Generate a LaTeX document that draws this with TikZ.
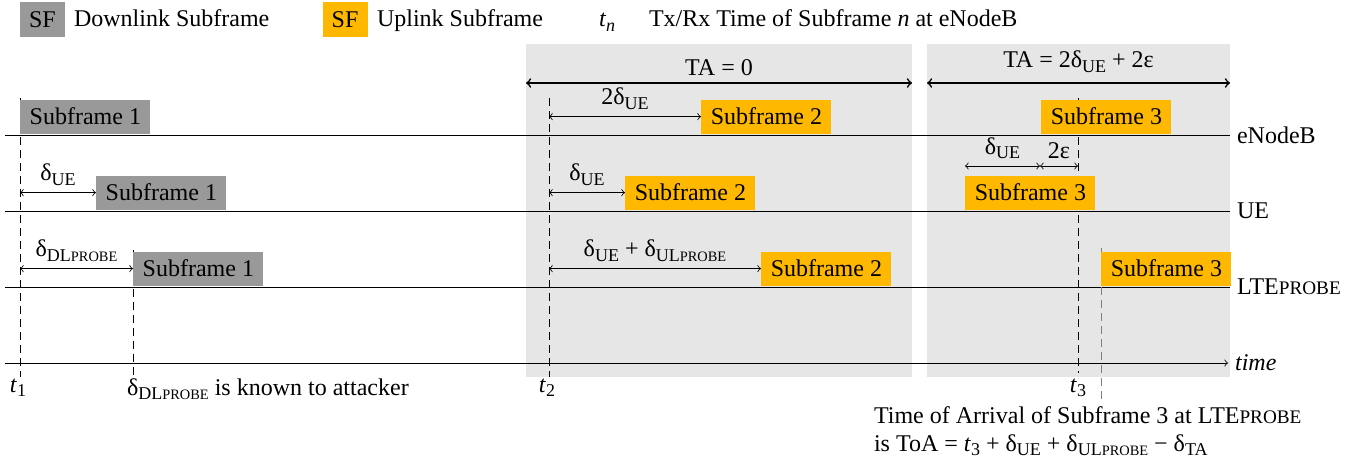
\documentclass[tikz,border=0pt]{standalone}
\usepackage{fontspec}
\setmainfont{Liberation Serif}
\usepackage{graphicx}

\definecolor{dlgray}{RGB}{153,153,153}
\definecolor{ulorange}{RGB}{255,184,0}
\definecolor{tagray}{RGB}{230,230,230}

\newcommand{\probe}{\scalebox{0.8}{PROBE}}
\newcommand{\sub}[1]{\raisebox{-0.4ex}{\fontsize{9}{10}\selectfont #1}}
\newcommand{\dUE}{δ\sub{UE}}

\tikzset{
	dlbox/.style={fill=dlgray, inner sep=0pt, minimum width=65pt, minimum height=17pt, anchor=south west},
	ulbox/.style={dlbox, fill=ulorange},
	legbox/.style={minimum width=22.5pt, minimum height=17.5pt, anchor=center},
	tline/.style={dash pattern=on 4pt off 2.5pt},
	gap/.style={<->}
}

\begin{document}
\begin{tikzpicture}[x=0.5pt, y=-0.5pt, font=\fontsize{12}{14}\selectfont]
			\useasboundingbox (0,0) rectangle (1365,465);

			\node[dlbox, legbox] (legdl) at (42.5,19.5) {SF};
			\node[anchor=base west] (legdltext) at (67,27) {Downlink Subframe};
			\node[ulbox, legbox] (legul) at (345,19.5) {SF};
			\node[anchor=base west] (legultext) at (370,27) {Uplink Subframe};
			\node[anchor=base west] (legtn) at (592,27) {\textit{t}\sub{\textit{n}}};
			\node[anchor=base west] (legtntext) at (642,27) {Tx/Rx Time of Subframe \textit{n} at eNodeB};

			\fill[tagray] (526,44) rectangle (912,377);
			\fill[tagray] (927,44) rectangle (1230,377);

			\coordinate (taAl) at (526,83);
			\coordinate (taAr) at (912,83);
			\coordinate (taBl) at (927,83);
			\coordinate (taBr) at (1230,83);
			\draw[thick, <->] (taAl) -- node[above] (taAlab) {TA = 0} (taAr);
			\draw[thick, <->] (taBl) -- node[above, yshift=1.5pt] (taBlab) {TA = 2\dUE\ + 2ε} (taBr);

			\coordinate (enbl) at (5,135);
			\coordinate (enbr) at (1230,135);
			\coordinate (uel) at (5,211);
			\coordinate (uer) at (1230,211);
			\coordinate (lpl) at (5,287);
			\coordinate (lpr) at (1230,287);
			\coordinate (timel) at (5,363);
			\coordinate (timer) at (1228,363);
			\draw (enbl) -- (enbr) node[right] (enblab) {eNodeB};
			\draw (uel) -- (uer) node[right] (uelab) {UE};
			\draw (lpl) -- (lpr) node[right] (lplab) {LTE\probe};
			\draw[->] (timel) -- (timer) node[right] (timelab) {\textit{time}};

			\coordinate (tAtop) at (20,98);
			\coordinate (tAbot) at (20,377);
			\coordinate (dltop) at (133,250);
			\coordinate (dlbot) at (133,377);
			\coordinate (tBtop) at (549,98);
			\coordinate (tBbot) at (549,377);
			\coordinate (tCtop) at (1078,98);
			\coordinate (tCbot) at (1078,373);
			\coordinate (toatop) at (1101,248);
			\coordinate (toabot) at (1101,400);
			\draw[tline] (tAtop) -- (tAbot);
			\draw[tline] (dltop) -- (dlbot);
			\draw[tline] (tBtop) -- (tBbot);
			\draw[tline] (tCtop) -- (tCbot);
			\draw[tline, gray] (toatop) -- (toabot);

			\node (tAlab) at (18,388) {\textit{t}\sub{1}};
			\node (tBlab) at (547,388) {\textit{t}\sub{2}};
			\node (tClab) at (1078,388) {\textit{t}\sub{3}};
			\node[anchor=west] (dllab) at (120,389) {δ\sub{DL\probe} is known to attacker};
			\node[anchor=west, align=left] (toalab) at (867,431) {Time of Arrival of Subframe 3 at LTE\probe\\is ToA = \textit{t}\sub{3} + \dUE\ + δ\sub{UL\probe} − δ\sub{TA}};

			\node[dlbox] (enbA) at (20,134) {Subframe 1};
			\node[dlbox] (ueA) at (96,210) {Subframe 1};
			\node[dlbox] (lpA) at (133,286) {Subframe 1};
			\node[ulbox] (enbB) at (701,134) {Subframe 2};
			\node[ulbox] (ueB) at (625,210) {Subframe 2};
			\node[ulbox] (lpB) at (761,286) {Subframe 2};
			\node[ulbox] (enbC) at (1041,134) {Subframe 3};
			\node[ulbox] (ueC) at (965,210) {Subframe 3};
			\node[ulbox] (lpC) at (1101,286) {Subframe 3};

			\draw[gap] (tAtop |- ueA.west) -- node[above] {\dUE} (ueA.west);
			\draw[gap] (tAtop |- lpA.west) -- node[above] {δ\sub{DL\probe}} (lpA.west);
			\draw[gap] (tBtop |- enbB.west) -- node[above] {2\dUE} (enbB.west);
			\draw[gap] (tBtop |- ueB.west) -- node[above] {\dUE} (ueB.west);
			\draw[gap] (tBtop |- lpB.west) -- node[above] {\dUE\ + δ\sub{UL\probe}} (lpB.west);

			\coordinate (epsA) at (965,166);
			\coordinate (epsB) at (1040,166);
			\draw[gap] (epsA) -- node[above] {\dUE} (epsB);
			\draw[gap] (epsB) -- node[above] {2ε} (epsB -| tCtop);
		\end{tikzpicture}
\end{document}
